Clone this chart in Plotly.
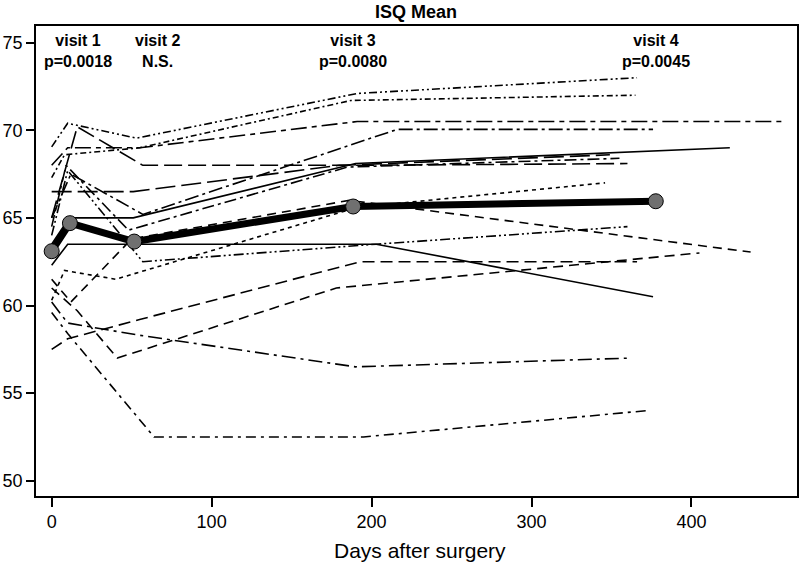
import plotly.graph_objs as go

# ------------------------------------------------- DATA -----------------------------------------------------

# individual implants: days after surgery and ISQ at each of the 5 measurements
days_a = [0, 10, 53, 191, 366]
isq_a = [69.05, 70.4, 69.55, 72.1, 73.0]
days_b = [0, 8, 55, 187, 365]
isq_b = [67.3, 68.6, 69.0, 71.7, 72.0]
days_c = [0, 10, 55, 191, 457]
isq_c = [68.0, 69.0, 69.0, 70.5, 70.5]
days_d = [0, 12, 57, 216, 376]
isq_d = [65.0, 67.5, 65.2, 70.05, 70.05]
days_e = [0, 11, 51, 190, 424]
isq_e = [63.5, 65.0, 65.0, 68.1, 69.0]
days_f = [0, 10, 55, 203, 376]
isq_f = [62.3, 63.5, 63.5, 63.5, 60.5]
days_g = [0, 12, 51, 180, 349]
isq_g = [66.5, 66.5, 66.5, 68.0, 68.6]
days_q = [0, 16, 57, 190, 360]
isq_q = [65.0, 70.2, 68.0, 68.0, 68.1]
days_r = [0, 9, 48, 185, 355]
isq_r = [64.5, 68.0, 64.3, 67.9, 68.4]
days_s = [0, 8, 40, 191, 346]
isq_s = [60.3, 62.0, 61.5, 65.6, 67.0]
days_h = [0, 12, 50, 186, 437]
isq_h = [61.5, 60.2, 63.8, 66.0, 63.05]
days_i = [0, 10, 57, 203, 360]
isq_i = [64.0, 67.7, 62.5, 63.5, 64.5]
days_j = [0, 10, 55, 193, 366]
isq_j = [57.5, 58.1, 59.2, 62.5, 62.5]
days_k = [0, 16, 41, 178, 405]
isq_k = [61.0, 59.7, 57.0, 61.0, 63.0]
days_m = [0, 10, 55, 190, 362]
isq_m = [60.2, 59.0, 58.3, 56.5, 57.0]
days_n = [0, 10, 64, 195, 372]
isq_n = [59.6, 58.4, 52.5, 52.5, 54.0]

# mean curve
mean_days = [0, 11.4, 51.6, 188.5, 377.7]
mean_isq = [63.1, 64.7, 63.65, 65.65, 65.95]

# visit labels
visit_labels = ["visit 1<br>p=0.0018", "visit 2<br>N.S.", "visit 3<br>p=0.0080", "visit 4<br>p=0.0045"]
visit_label_x = [16.3, 66.4, 188.3, 377.7]

# ------------------------------------------------- FIGURE -----------------------------------------------------

subjects = [
    (days_a, isq_a, "8px,3px,2px,3px,2px,3px"),
    (days_b, isq_b, "6px,3px,2px,3px"),
    (days_c, isq_c, "16px,5px,5px,5px"),
    (days_d, isq_d, "14px,4px,3px,4px"),
    (days_e, isq_e, "solid"),
    (days_f, isq_f, "solid"),
    (days_g, isq_g, "20px,6px"),
    (days_q, isq_q, "18px,6px"),
    (days_r, isq_r, "12px,4px,3px,4px"),
    (days_s, isq_s, "4px,4px"),
    (days_h, isq_h, "9px,6px"),
    (days_i, isq_i, "10px,3px,2px,3px,2px,3px"),
    (days_j, isq_j, "12px,6px"),
    (days_k, isq_k, "10px,6px"),
    (days_m, isq_m, "14px,5px,3px,5px"),
    (days_n, isq_n, "10px,5px,3px,5px"),
]

fig = go.Figure()
for d, v, dash in subjects:
    fig.add_trace(go.Scatter(x=d, y=v, mode='lines',
                             line=dict(color='black', width=1.6, dash=dash),
                             hoverinfo='skip'))

fig.add_trace(go.Scatter(x=mean_days, y=mean_isq, mode='lines+markers',
                         line=dict(color='black', width=7),
                         marker=dict(size=15, color='#707070', line=dict(color='black', width=1))))

for lab, x in zip(visit_labels, visit_label_x):
    fig.add_annotation(x=x, y=74.5, text="<b>" + lab + "</b>", showarrow=False,
                       font=dict(size=16, color='black'), yanchor='middle')

# x axis title placed by hand so the margins stay fixed
fig.add_annotation(x=0.505, xref='paper', y=-0.115, yref='paper', text='Days after surgery',
                   showarrow=False, font=dict(size=21, color='black'), yanchor='middle')

fig.update_layout(
    width=800, height=566,
    margin=dict(l=36, r=3, t=26, b=70),
    plot_bgcolor='white', paper_bgcolor='white',
    showlegend=False,
    font=dict(family='Liberation Sans, Arial, sans-serif', color='black'),
    title=dict(text='<b>ISQ Mean</b>', x=0.52, xanchor='center', y=0.979, yanchor='middle',
               font=dict(size=18)),
    xaxis=dict(range=[-9.8, 466], tickvals=[0, 100, 200, 300, 400], ticks='outside', ticklen=9,
               tickwidth=1.5, tickcolor='black', showline=True, linecolor='black', linewidth=1.5,
               mirror=True, showgrid=False, zeroline=False, tickfont=dict(size=18), automargin=False),
    yaxis=dict(range=[49.13, 75.95], tickvals=[50, 55, 60, 65, 70, 75], ticks='outside', ticklen=8,
               tickwidth=1.5, tickcolor='black', showline=True, linecolor='black', linewidth=1.5,
               mirror=True, showgrid=False, zeroline=False, tickfont=dict(size=18), automargin=False),
)

# page body has an 8px default margin; drop it so the figure fills the window
fig.write_html("out.html", config={'displayModeBar': False},
               post_script="document.body.style.margin='0';document.body.style.overflow='hidden';")
